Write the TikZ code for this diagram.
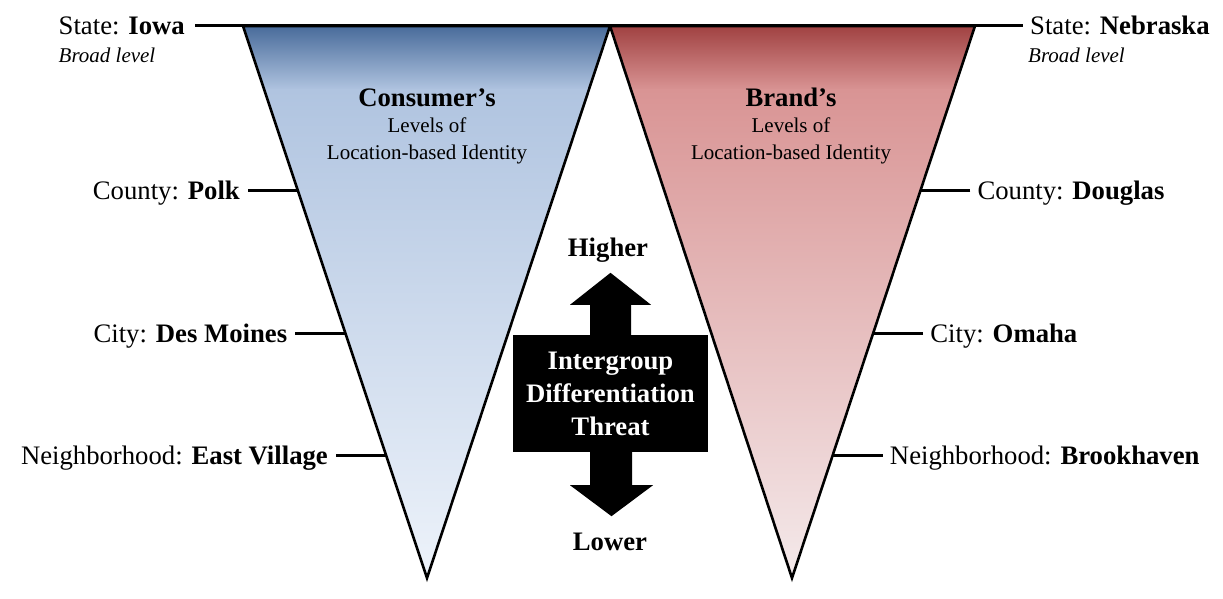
\documentclass[tikz,border=0pt]{standalone}
\usepackage{fontspec}
\setmainfont{Liberation Serif}
\usetikzlibrary{calc}
\definecolor{bdark}{RGB}{63,99,148}
\definecolor{bmid}{RGB}{176,196,224}
\definecolor{blight}{RGB}{239,244,251}
\definecolor{rdark}{RGB}{155,58,58}
\definecolor{rmid}{RGB}{217,148,148}
\definecolor{rlight}{RGB}{245,236,237}
\tikzset{
  lab/.style={inner sep=0pt, text height=18pt, text depth=0pt, font=\fontsize{26.7}{30}\selectfont},
  sublab/.style={inner sep=0pt, anchor=west, font=\fontsize{21}{25}\selectfont\itshape},
  conn/.style={line width=3pt},
  outline/.style={line width=2.6pt, line join=miter},
  title/.style={inner sep=0pt, align=center, font=\fontsize{21}{26.5}\selectfont},
  bigbold/.style={inner sep=0pt, font=\fontsize{26.7}{30}\selectfont\bfseries},
}
\begin{document}
\begin{tikzpicture}[x=1pt,y=-1pt]
\useasboundingbox (0,0) rectangle (1223,599);
% triangle corners
\coordinate (LT) at (243,26);
\coordinate (MT) at (610,26);
\coordinate (LA) at (427,578);
\coordinate (RT) at (975,26);
\coordinate (RA) at (792,578);
% edge points
\coordinate (pL1) at ($(LT)!0.2989!(LA)$);
\coordinate (pL2) at ($(LT)!0.5562!(LA)$);
\coordinate (pL3) at ($(LT)!0.7772!(LA)$);
\coordinate (pR1) at ($(RT)!0.2989!(RA)$);
\coordinate (pR2) at ($(RT)!0.5562!(RA)$);
\coordinate (pR3) at ($(RT)!0.7772!(RA)$);
% left triangle fill
\begin{scope}
\clip (LT) -- (MT) -- (LA) -- cycle;
\shade[top color=bdark, bottom color=bmid] (230,20) rectangle (620,90);
\shade[top color=bmid, bottom color=blight] (230,89.5) rectangle (620,590);
\end{scope}
% right triangle fill
\begin{scope}
\clip (MT) -- (RT) -- (RA) -- cycle;
\shade[top color=rdark, bottom color=rmid] (600,20) rectangle (990,90);
\shade[top color=rmid, bottom color=rlight] (600,89.5) rectangle (990,590);
\end{scope}
\draw[outline] (LT) -- (MT) -- (LA) -- cycle;
\draw[outline] (MT) -- (RT) -- (RA) -- cycle;
% labels left
\node[lab, anchor=east] (iowa) at (185,26) {State: \textbf{Iowa}};
\node[sublab] (broadL) at ($(iowa.west)+(0,29)$) {Broad level};
\node[lab, anchor=east] (polk) at ([xshift=-58pt]pL1) {County: \textbf{Polk}};
\node[lab, anchor=east] (desm) at ([xshift=-58pt]pL2) {City: \textbf{Des Moines}};
\node[lab, anchor=east] (eastv) at ([xshift=-58pt]pL3) {Neighborhood: \textbf{East Village}};
% labels right
\node[lab, anchor=west] (nebr) at (1030,26) {State: \textbf{Nebraska}};
\node[sublab] (broadR) at ($(nebr.west)+(-2,29)$) {Broad level};
\node[lab, anchor=west] (doug) at ([xshift=57pt]pR1) {County: \textbf{Douglas}};
\node[lab, anchor=west] (omaha) at ([xshift=57pt]pR2) {City: \textbf{Omaha}};
\node[lab, anchor=west] (brook) at ([xshift=57pt]pR3) {Neighborhood: \textbf{Brookhaven}};
% connectors
\draw[conn] ([xshift=10pt]iowa.east) -- ([xshift=-7pt]nebr.west);
\draw[conn] ([xshift=8pt]polk.east) -- (pL1);
\draw[conn] ([xshift=8pt]desm.east) -- (pL2);
\draw[conn] ([xshift=8pt]eastv.east) -- (pL3);
\draw[conn] ([xshift=-7pt]doug.west) -- (pR1);
\draw[conn] ([xshift=-7pt]omaha.west) -- (pR2);
\draw[conn] ([xshift=-7pt]brook.west) -- (pR3);
% titles
\node[title, anchor=base] (cons) at (427,159) {{\fontsize{26.7}{26.5}\selectfont\bfseries Consumer's}\\Levels of\\Location-based Identity};
\node[title, anchor=base] (brand) at (791,159) {{\fontsize{26.7}{26.5}\selectfont\bfseries Brand's}\\Levels of\\Location-based Identity};
% center
\node[fill=black, minimum width=195pt, minimum height=117pt, inner sep=0pt, text=white, align=center, font=\fontsize{26.7}{33}\selectfont\bfseries] (idt) at (610.5,393.5) {Intergroup\\Differentiation\\Threat};
\fill (idt.north) ++(-20.5,0) -- ++(0,-30) -- ++(-20,0) -- ++(40.5,-32) -- ++(40.5,32) -- ++(-20,0) -- ++(0,30) -- cycle;
\fill (idt.south) ++(-20.5,0) -- ++(0,33) -- ++(-20,0) -- ++(41.5,31) -- ++(41.5,-31) -- ++(-21,0) -- ++(0,-33) -- cycle;
\node[bigbold] (higher) at (608,250) {Higher};
\node[bigbold] (lower) at (610,542) {Lower};
\end{tikzpicture}
\end{document}
